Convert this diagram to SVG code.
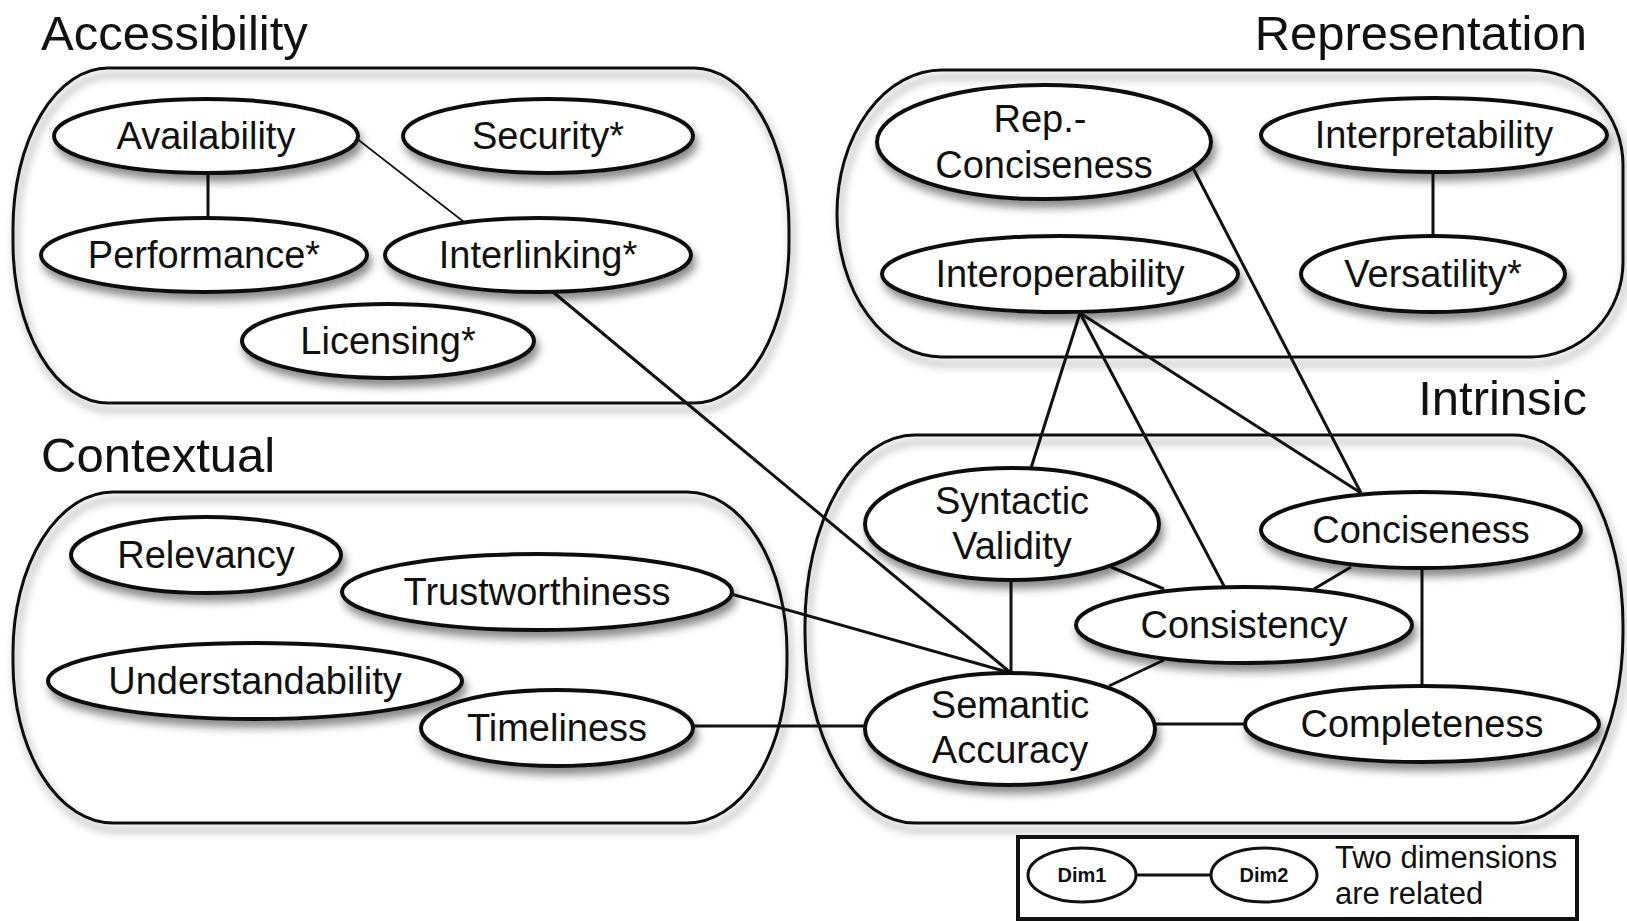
<svg xmlns="http://www.w3.org/2000/svg" width="1627" height="921" viewBox="0 0 1627 921">
<style>
.title{font-family:"Liberation Sans",Arial,sans-serif;font-size:49px;fill:#111}
.lbl{font-family:"Liberation Sans",Arial,sans-serif;font-size:38px;fill:#111;text-anchor:middle}
.box{fill:none;stroke:#111;stroke-width:3}
.node ellipse{fill:#fff;stroke:#111;stroke-width:4}
.edge{stroke:#111;stroke-width:3;fill:none}
.thin{stroke-width:1.6}
.leg{font-family:"Liberation Sans",Arial,sans-serif;font-size:31px;fill:#111}
.dim{font-family:"Liberation Sans",Arial,sans-serif;font-size:20px;font-weight:bold;fill:#111;text-anchor:middle}
</style>
<defs>
<filter id="sh" x="-20%" y="-30%" width="140%" height="170%">
<feDropShadow dx="3" dy="7" stdDeviation="4" flood-color="#000" flood-opacity="0.45"/>
</filter>
</defs>
<rect width="1627" height="921" fill="#fff"/>

<g id="titles">
<text class="title" x="41" y="50">Accessibility</text>
<text class="title" x="1587" y="50" text-anchor="end">Representation</text>
<text class="title" x="1587" y="415" text-anchor="end">Intrinsic</text>
<text class="title" x="41" y="472">Contextual</text>
</g>

<g id="groups" filter="url(#sh)">
<rect id="box-accessibility" class="box" x="13" y="68" width="776" height="335" rx="95" ry="160"/>
<path id="box-representation" class="box" d="M942 70 L1530 70 A93 95 0 0 1 1623 165 L1623 262 A93 95 0 0 1 1530 357 L942 357 A105 143.5 0 0 1 942 70 Z"/>
<rect id="box-contextual" class="box" x="13" y="492" width="774" height="331" rx="100" ry="160"/>
<rect id="box-intrinsic" class="box" x="805" y="435" width="818" height="388" rx="110" ry="190"/>
</g>

<g id="connectors">
<line class="edge" x1="208" y1="172" x2="208" y2="219"/>
<line class="edge thin" x1="356" y1="138" x2="464" y2="222"/>
<line class="edge" x1="553" y1="292" x2="1011" y2="673"/>
<line class="edge" x1="731" y1="594" x2="1011" y2="673"/>
<line class="edge" x1="693" y1="726" x2="867" y2="726"/>
<line class="edge" x1="1011" y1="578" x2="1011" y2="673"/>
<line class="edge" x1="1111" y1="567" x2="1164" y2="589"/>
<line class="edge" x1="1351" y1="567" x2="1314" y2="589"/>
<line class="edge" x1="1164" y1="660" x2="1109" y2="686"/>
<line class="edge" x1="1154" y1="724" x2="1246" y2="724"/>
<line class="edge" x1="1422" y1="567" x2="1422" y2="687"/>
<line class="edge" x1="1080" y1="313" x2="1031" y2="468"/>
<line class="edge" x1="1080" y1="313" x2="1225" y2="588"/>
<line class="edge" x1="1080" y1="313" x2="1361" y2="493"/>
<line class="edge" x1="1193" y1="168" x2="1361" y2="493"/>
<line class="edge" x1="1433" y1="172" x2="1433" y2="236"/>
</g>

<g id="n-availability" class="node"><ellipse cx="206" cy="136" rx="152" ry="37" filter="url(#sh)"/><text class="lbl" x="206" y="149">Availability</text></g>
<g id="n-security" class="node"><ellipse cx="548" cy="136" rx="145" ry="37" filter="url(#sh)"/><text class="lbl" x="548" y="149">Security*</text></g>
<g id="n-performance" class="node"><ellipse cx="204" cy="255" rx="163" ry="37" filter="url(#sh)"/><text class="lbl" x="204" y="268">Performance*</text></g>
<g id="n-interlinking" class="node"><ellipse cx="538" cy="255" rx="153" ry="37" filter="url(#sh)"/><text class="lbl" x="538" y="268">Interlinking*</text></g>
<g id="n-licensing" class="node"><ellipse cx="388" cy="341" rx="146" ry="37" filter="url(#sh)"/><text class="lbl" x="388" y="354">Licensing*</text></g>

<g id="n-repconciseness" class="node"><ellipse cx="1044" cy="142" rx="167" ry="57" filter="url(#sh)"/><text class="lbl" x="1040" y="132">Rep.-</text><text class="lbl" x="1044" y="178">Conciseness</text></g>
<g id="n-interpretability" class="node"><ellipse cx="1434" cy="135" rx="173" ry="37" filter="url(#sh)"/><text class="lbl" x="1434" y="148">Interpretability</text></g>
<g id="n-interoperability" class="node"><ellipse cx="1060" cy="274" rx="178" ry="38" filter="url(#sh)"/><text class="lbl" x="1060" y="287">Interoperability</text></g>
<g id="n-versatility" class="node"><ellipse cx="1433" cy="274" rx="132" ry="38" filter="url(#sh)"/><text class="lbl" x="1433" y="287">Versatility*</text></g>

<g id="n-relevancy" class="node"><ellipse cx="206" cy="555" rx="135" ry="38" filter="url(#sh)"/><text class="lbl" x="206" y="568">Relevancy</text></g>
<g id="n-trustworthiness" class="node"><ellipse cx="537" cy="592" rx="195" ry="38" filter="url(#sh)"/><text class="lbl" x="537" y="605">Trustworthiness</text></g>
<g id="n-understandability" class="node"><ellipse cx="255" cy="681" rx="207" ry="38" filter="url(#sh)"/><text class="lbl" x="255" y="694">Understandability</text></g>
<g id="n-timeliness" class="node"><ellipse cx="557" cy="728" rx="136" ry="38" filter="url(#sh)"/><text class="lbl" x="557" y="741">Timeliness</text></g>

<g id="n-syntactic" class="node"><ellipse cx="1012" cy="524" rx="147" ry="56" filter="url(#sh)"/><text class="lbl" x="1012" y="514">Syntactic</text><text class="lbl" x="1012" y="559">Validity</text></g>
<g id="n-conciseness" class="node"><ellipse cx="1421" cy="530" rx="160" ry="38" filter="url(#sh)"/><text class="lbl" x="1421" y="543">Conciseness</text></g>
<g id="n-consistency" class="node"><ellipse cx="1244" cy="625" rx="168" ry="38" filter="url(#sh)"/><text class="lbl" x="1244" y="638">Consistency</text></g>
<g id="n-semantic" class="node"><ellipse cx="1010" cy="729" rx="145" ry="56" filter="url(#sh)"/><text class="lbl" x="1010" y="718">Semantic</text><text class="lbl" x="1010" y="763">Accuracy</text></g>
<g id="n-completeness" class="node"><ellipse cx="1422" cy="724" rx="177" ry="38" filter="url(#sh)"/><text class="lbl" x="1422" y="737">Completeness</text></g>

<g id="legend">
<rect x="1018" y="837" width="559" height="82" fill="#fff" stroke="#111" stroke-width="4"/>
<g id="n-dim1" class="node"><ellipse cx="1082" cy="875" rx="54" ry="27" style="stroke-width:3"/><text class="dim" x="1082" y="882">Dim1</text></g>
<g id="n-dim2" class="node"><ellipse cx="1264" cy="875" rx="53" ry="27" style="stroke-width:3"/><text class="dim" x="1264" y="882">Dim2</text></g>
<line class="edge" x1="1136" y1="875" x2="1211" y2="875"/>
<text class="leg" x="1335" y="868">Two dimensions</text>
<text class="leg" x="1335" y="904">are related</text>
</g>
</svg>
